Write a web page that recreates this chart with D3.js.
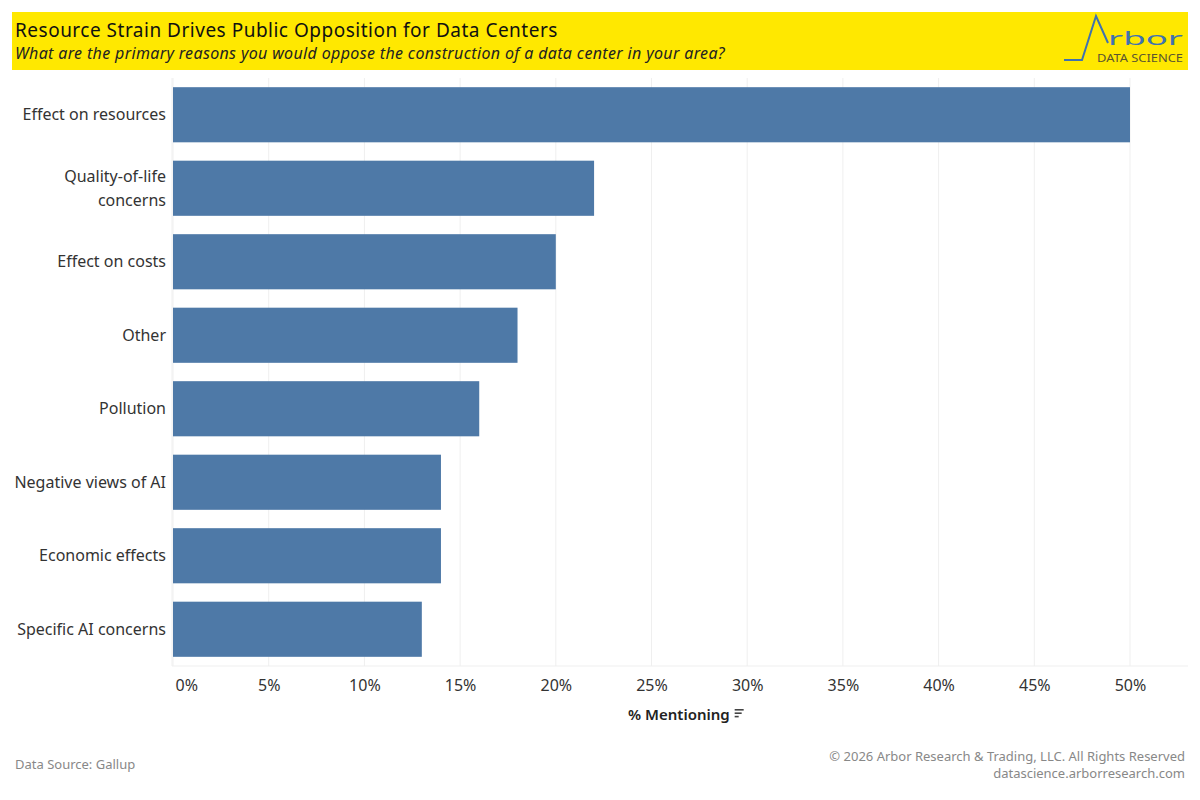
<!DOCTYPE html>
<html>
<head>
<meta charset="utf-8">
<script src="https://cdn.jsdelivr.net/npm/d3@7"></script>
<style>
  body { margin: 0; background: #fff; }
  text { font-family: "Noto Sans", sans-serif; }
</style>
</head>
<body>
<svg id="chart" width="1200" height="800"></svg>
<script>
// --- Data ---
const categories = [
    "Effect on resources", "Quality-of-life concerns", "Effect on costs", "Other",
    "Pollution", "Negative views of AI", "Economic effects", "Specific AI concerns"
];
const pctMentioning = [50, 22, 20, 18, 16, 14, 14, 13];
const xTicks = [0, 5, 10, 15, 20, 25, 30, 35, 40, 45, 50];

const rows = categories.map((c, i) => ({cat: c, val: pctMentioning[i]}));

const svg = d3.select("#chart");
const FONT = "'Noto Sans', sans-serif";
const plot = {left: 172, right: 1188, top: 78, bottom: 666};

// --- Header band ---
svg.append("rect").attr("x", 12).attr("y", 12).attr("width", 1176).attr("height", 58).attr("fill", "#FFE800");
svg.append("text").attr("x", 15).attr("y", 37).attr("font-size", 19).attr("letter-spacing", 0.5).attr("fill", "#111")
    .text("Resource Strain Drives Public Opposition for Data Centers");
svg.append("text").attr("x", 15).attr("y", 59).attr("font-size", 16).attr("letter-spacing", 0.35)
    .attr("font-style", "italic").attr("fill", "#222")
    .text("What are the primary reasons you would oppose the construction of a data center in your area?");

// logo
const logo = svg.append("g");
logo.append("path")
    .attr("d", "M1064,60 L1082,60 L1096,16 L1108,43")
    .attr("fill", "none").attr("stroke", "#3f72af").attr("stroke-width", 2);
logo.append("text").attr("x", 1108).attr("y", 45).attr("font-size", 18)
    .attr("fill", "#3f72af").attr("textLength", 75).attr("lengthAdjust", "spacingAndGlyphs").text("rbor");
logo.append("text").attr("x", 1097).attr("y", 62).attr("font-size", 11)
    .attr("fill", "#5a5530").attr("textLength", 86).attr("lengthAdjust", "spacingAndGlyphs").text("DATA SCIENCE");

// --- Scales ---
const x = d3.scaleLinear().domain([0, 50]).range([173, 1130]);
const y = d3.scaleBand().domain(categories).range([plot.top, plot.bottom]).paddingInner(0.25).paddingOuter(0.125);

// gridlines
svg.append("g").selectAll("line").data(xTicks).enter().append("line")
    .attr("x1", d => x(d)).attr("x2", d => x(d))
    .attr("y1", plot.top).attr("y2", plot.bottom)
    .attr("stroke", "#efefef").attr("stroke-width", 1);
svg.append("line").attr("x1", plot.left).attr("x2", plot.right).attr("y1", plot.bottom).attr("y2", plot.bottom)
    .attr("stroke", "#efefef");
svg.append("line").attr("x1", plot.left).attr("x2", plot.left).attr("y1", plot.top).attr("y2", plot.bottom)
    .attr("stroke", "#efefef");

// bars
svg.append("g").selectAll("rect").data(rows).enter().append("rect")
    .attr("x", x(0))
    .attr("y", d => y(d.cat))
    .attr("width", d => x(d.val) - x(0))
    .attr("height", y.bandwidth())
    .attr("fill", "#4e79a7");

// x axis labels
const xAxis = d3.axisBottom(x).tickValues(xTicks).tickFormat(d => d + "%").tickSize(0);
const gx = svg.append("g").attr("transform", `translate(0,${plot.bottom})`).call(xAxis);
gx.select(".domain").remove();
gx.selectAll("text").attr("font-size", 16).attr("fill", "#333").attr("dy", 0).attr("y", 25)
    .style("font-family", FONT);
gx.selectAll(".tick").filter(d => d === 0).select("text").attr("text-anchor", "start").attr("x", 2);

// y labels with wrapping
const yAxis = d3.axisLeft(y).tickSize(0);
const gy = svg.append("g").attr("transform", `translate(${plot.left - 6},0)`).call(yAxis);
gy.select(".domain").remove();
gy.selectAll("text").attr("font-size", 16).attr("fill", "#333")
    .style("font-family", FONT)
    .each(function() {
        const t = d3.select(this);
        const words = t.text().split(" ");
        const maxW = 158;
        let lines = [], line = [];
        t.text(null);
        const probe = t.append("tspan");
        words.forEach(w => {
            line.push(w);
            probe.text(line.join(" "));
            if (probe.node().getComputedTextLength() > maxW && line.length > 1) {
                line.pop();
                lines.push(line.join(" "));
                line = [w];
            }
        });
        lines.push(line.join(" "));
        probe.remove();
        const lh = 1.5;
        lines.forEach((l, i) => {
            t.append("tspan").attr("x", 0)
                .attr("dy", i === 0 ? (0.35 - (lines.length - 1) * lh / 2) + "em" : lh + "em")
                .text(l);
        });
        t.attr("dy", null);
    });

// axis title + sort icon
const axTitle = svg.append("text").attr("x", 628).attr("y", 720)
    .attr("font-size", 15).attr("font-weight", 600).attr("fill", "#222").text("% Mentioning");
const tEnd = 628 + axTitle.node().getComputedTextLength();
const icon = svg.append("g").attr("fill", "#444");
[9, 7, 4].forEach((w, i) => {
    icon.append("rect").attr("x", tEnd + 5).attr("y", 709 + i * 3.4).attr("width", w).attr("height", 1.6);
});

// footer
svg.append("text").attr("x", 15).attr("y", 769).attr("font-size", 13).attr("fill", "#888")
    .text("Data Source: Gallup");
svg.append("text").attr("x", 1185).attr("y", 761).attr("text-anchor", "end").attr("font-size", 13).attr("fill", "#888")
    .text("© 2026 Arbor Research & Trading, LLC. All Rights Reserved");
svg.append("text").attr("x", 1185).attr("y", 778).attr("text-anchor", "end").attr("font-size", 13).attr("fill", "#888")
    .text("datascience.arborresearch.com");
</script>
</body>
</html>
